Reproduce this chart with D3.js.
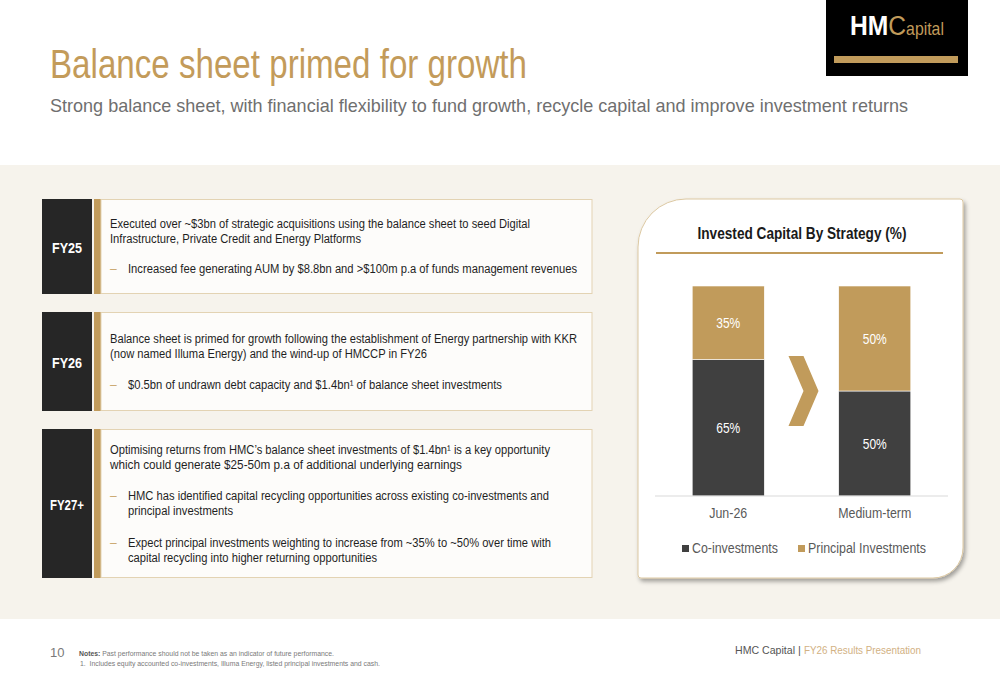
<!DOCTYPE html>
<html>
<head>
<meta charset="utf-8">
<script src="https://cdn.jsdelivr.net/npm/d3@7"></script>
<style>
  body { margin: 0; background: #fff; }
  svg { display: block; font-family: "Liberation Sans", Arial, sans-serif; }
</style>
</head>
<body>
<script>
// chart values
const categories = ["Jun-26", "Medium-term"];
const coInvestments = [65, 50];
const principalInvestments = [35, 50];
const seriesNames = ["Co-investments", "Principal Investments"];

// left-hand panel text
const periods = ["FY25", "FY26", "FY27+"];
const periodLines = [
  [
    { text: "Executed over ~$3bn of strategic acquisitions using the balance sheet to seed Digital" },
    { text: "Infrastructure, Private Credit and Energy Platforms" },
    { text: "Increased fee generating AUM by $8.8bn and >$100m p.a of funds management revenues", bullet: true }
  ],
  [
    { text: "Balance sheet is primed for growth following the establishment of Energy partnership with KKR" },
    { text: "(now named Illuma Energy) and the wind-up of HMCCP in FY26" },
    { text: "$0.5bn of undrawn debt capacity and $1.4bn¹ of balance sheet investments", bullet: true }
  ],
  [
    { text: "Optimising returns from HMC’s balance sheet investments of $1.4bn¹ is a key opportunity" },
    { text: "which could generate $25-50m p.a of additional underlying earnings" },
    { text: "HMC has identified capital recycling opportunities across existing co-investments and", bullet: true },
    { text: "principal investments", cont: true },
    { text: "Expect principal investments weighting to increase from ~35% to ~50% over time with", bullet: true },
    { text: "capital recycling into higher returning opportunities", cont: true }
  ]
];

// layout (pixel positions)
const width = 1000, height = 685;
const gold = "#c19b5b", dark = "#404040";
const rowBoxes = [{ y: 199, h: 95 }, { y: 312, h: 99 }, { y: 429, h: 149 }];
const lineBase = [[228, 243, 273], [343, 358, 389], [454, 469, 500, 515, 547, 562]];
const lineWidth = [[420, 251, 449], [467, 317, 374], [440, 352, 421, 105, 423, 249]];
const periodWidth = [30, 30, 34];

function fit(sel, w) {
  return sel.attr("textLength", w).attr("lengthAdjust", "spacingAndGlyphs");
}

const svg = d3.select("body").append("svg")
  .attr("width", width)
  .attr("height", height);

const defs = svg.append("defs");
defs.append("filter").attr("id", "shadow")
  .attr("x", "-10%").attr("y", "-10%").attr("width", "130%").attr("height", "130%")
  .append("feDropShadow")
  .attr("dx", 2).attr("dy", 3).attr("stdDeviation", 2.2)
  .attr("flood-color", "#000").attr("flood-opacity", 0.35);

svg.append("rect").attr("width", width).attr("height", height).attr("fill", "#fff");

// header
fit(svg.append("text")
  .attr("x", 50).attr("y", 78)
  .attr("font-size", 40)
  .attr("fill", "#c39b5a")
  .text("Balance sheet primed for growth"), 477);

fit(svg.append("text")
  .attr("x", 50).attr("y", 112)
  .attr("font-size", 19)
  .attr("fill", "#6f6f6f")
  .text("Strong balance sheet, with financial flexibility to fund growth, recycle capital and improve investment returns"), 858);

// logo (scaled as one piece so the word keeps its natural spacing)
const logo = svg.append("g");
logo.append("rect").attr("x", 826).attr("y", 0).attr("width", 142).attr("height", 76).attr("fill", "#000");
logo.append("rect").attr("x", 834).attr("y", 56).attr("width", 124).attr("height", 7).attr("fill", gold);
const brand = logo.append("text").attr("x", 0).attr("y", 0);
brand.append("tspan").attr("font-size", 28).attr("font-weight", "bold").attr("fill", "#fff").text("HM");
brand.append("tspan").attr("font-size", 28).attr("fill", gold).text("C");
brand.append("tspan").attr("font-size", 18).attr("fill", gold).text("apital");
const brandW = brand.node().getComputedTextLength();
brand.attr("transform", `translate(850,35) scale(${94 / brandW},1)`);

// beige panel
svg.append("rect").attr("x", 0).attr("y", 165).attr("width", width).attr("height", 454).attr("fill", "#f6f3ec");

// left rows
const rows = svg.append("g").attr("class", "rows");
periods.forEach((p, i) => {
  const b = rowBoxes[i];
  const g = rows.append("g");
  g.append("rect").attr("x", 42).attr("y", b.y).attr("width", 50).attr("height", b.h).attr("fill", "#262626");
  g.append("rect").attr("x", 94).attr("y", b.y).attr("width", 7).attr("height", b.h).attr("fill", gold);
  g.append("rect").attr("x", 101).attr("y", b.y + 0.5).attr("width", 491).attr("height", b.h - 1)
    .attr("fill", "#fdfcfa").attr("stroke", "#e3d3b3").attr("stroke-width", 1);
  fit(g.append("text")
    .attr("x", 67).attr("y", b.y + b.h / 2 + 6)
    .attr("text-anchor", "middle")
    .attr("font-size", 15).attr("font-weight", "bold").attr("fill", "#fff")
    .text(p), periodWidth[i]);

  periodLines[i].forEach((ln, j) => {
    const indent = (ln.bullet || ln.cont) ? 128 : 110;
    if (ln.bullet) {
      g.append("text").attr("x", 110).attr("y", lineBase[i][j])
        .attr("font-size", 12).attr("fill", "#c9a66d").text("–");
    }
    fit(g.append("text")
      .attr("x", indent).attr("y", lineBase[i][j])
      .attr("font-size", 12.5).attr("fill", "#1f1f1f")
      .text(ln.text), lineWidth[i][j]);
  });
});

// chart card
const card = svg.append("g");
const cx0 = 638, cy0 = 199, cx1 = 963, cy1 = 578, rTL = 48, rBR = 30, rS = 3;
card.append("path")
  .attr("d", `M${cx0},${cy0 + rTL} A${rTL},${rTL} 0 0 1 ${cx0 + rTL},${cy0}
    L${cx1 - rS},${cy0} A${rS},${rS} 0 0 1 ${cx1},${cy0 + rS}
    L${cx1},${cy1 - rBR} A${rBR},${rBR} 0 0 1 ${cx1 - rBR},${cy1}
    L${cx0 + rS},${cy1} A${rS},${rS} 0 0 1 ${cx0},${cy1 - rS} Z`)
  .attr("fill", "#fff")
  .attr("stroke", "#dcc8a2")
  .attr("stroke-width", 1)
  .attr("filter", "url(#shadow)");

fit(card.append("text")
  .attr("x", 802).attr("y", 239)
  .attr("text-anchor", "middle")
  .attr("font-size", 16).attr("font-weight", "bold").attr("fill", "#1a1a1a")
  .text("Invested Capital By Strategy (%)"), 209);

card.append("line").attr("x1", 656).attr("x2", 943).attr("y1", 253).attr("y2", 253)
  .attr("stroke", gold).attr("stroke-width", 2.2);

// stacked bars
const table = categories.map((c, i) => ({ cat: c, co: coInvestments[i], pi: principalInvestments[i] }));
const keys = ["co", "pi"];
const color = d3.scaleOrdinal().domain(keys).range([dark, gold]);
const stacked = d3.stack().keys(keys)(table);

const x = d3.scaleBand().domain(categories).range([655, 948]).paddingInner(0.508).paddingOuter(0.254);
const y = d3.scaleLinear().domain([0, 100]).range([496, 286]);

const chart = card.append("g");
chart.selectAll("g.series")
  .data(stacked)
  .join("g")
  .attr("class", "series")
  .attr("fill", d => color(d.key))
  .selectAll("rect")
  .data(d => d)
  .join("rect")
  .attr("x", d => x(d.data.cat))
  .attr("y", d => y(d[1]))
  .attr("width", x.bandwidth())
  .attr("height", d => y(d[0]) - y(d[1]))
  .attr("stroke", "#fff")
  .attr("stroke-width", 0.6);

stacked.forEach(s => {
  chart.append("g").selectAll("text")
    .data(s)
    .join("text")
    .attr("x", d => x(d.data.cat) + x.bandwidth() / 2)
    .attr("y", d => y((d[0] + d[1]) / 2))
    .attr("dy", "0.36em")
    .attr("text-anchor", "middle")
    .attr("font-size", 14.5)
    .attr("fill", "#fff")
    .text(d => d.data[s.key] + "%")
    .attr("textLength", 24)
    .attr("lengthAdjust", "spacingAndGlyphs");
});

// axis baseline
chart.append("line")
  .attr("x1", x.range()[0]).attr("x2", x.range()[1])
  .attr("y1", y(0)).attr("y2", y(0))
  .attr("stroke", "#d9d9d9").attr("stroke-width", 1.2);

// category labels
const catWidth = { "Jun-26": 38, "Medium-term": 73 };
chart.selectAll("text.cat")
  .data(categories)
  .join("text")
  .attr("class", "cat")
  .attr("x", d => x(d) + x.bandwidth() / 2)
  .attr("y", 518)
  .attr("text-anchor", "middle")
  .attr("font-size", 15)
  .attr("fill", "#595959")
  .text(d => d)
  .attr("textLength", d => catWidth[d])
  .attr("lengthAdjust", "spacingAndGlyphs");

// chevron between the bars
const chevX = (x(categories[0]) + x.bandwidth() + x(categories[1])) / 2 + 2;
const chevY = y(50);
chart.append("path")
  .attr("d", `M${chevX - 15},${chevY - 35} L${chevX},${chevY - 35} L${chevX + 15},${chevY}
    L${chevX},${chevY + 35} L${chevX - 15},${chevY + 35} L${chevX},${chevY} Z`)
  .attr("fill", gold);

// legend
const legendX = [682, 798];
const legendW = [86, 118];
const legend = chart.append("g");
seriesNames.forEach((n, i) => {
  legend.append("rect").attr("x", legendX[i]).attr("y", 545).attr("width", 7).attr("height", 7)
    .attr("fill", color(keys[i]));
  fit(legend.append("text").attr("x", legendX[i] + 10).attr("y", 553)
    .attr("font-size", 15).attr("fill", "#595959").text(n), legendW[i]);
});

// footer
svg.append("text").attr("x", 50).attr("y", 657)
  .attr("font-size", 13).attr("fill", "#7a7a7a").attr("font-weight", 300).text("10");

const note1 = svg.append("text").attr("x", 79).attr("y", 656).attr("font-size", 7.5).attr("fill", "#7a7a7a");
note1.append("tspan").attr("font-weight", "bold").attr("fill", "#555").text("Notes: ");
note1.append("tspan").text("Past performance should not be taken as an indicator of future performance.");
fit(note1, 255);

fit(svg.append("text").attr("x", 80).attr("y", 666).attr("font-size", 7.5).attr("fill", "#7a7a7a")
  .attr("xml:space", "preserve")
  .text("1.  Includes equity accounted co-investments, Illuma Energy, listed principal investments and cash."), 300);

fit(svg.append("text").attr("x", 735).attr("y", 654).attr("font-size", 11).attr("fill", "#555")
  .text("HMC Capital"), 60);
svg.append("text").attr("x", 798).attr("y", 654).attr("font-size", 11).attr("fill", "#555").text("|");
fit(svg.append("text").attr("x", 804).attr("y", 654).attr("font-size", 11).attr("fill", "#d2b183")
  .text("FY26 Results Presentation"), 117);
</script>
</body>
</html>
